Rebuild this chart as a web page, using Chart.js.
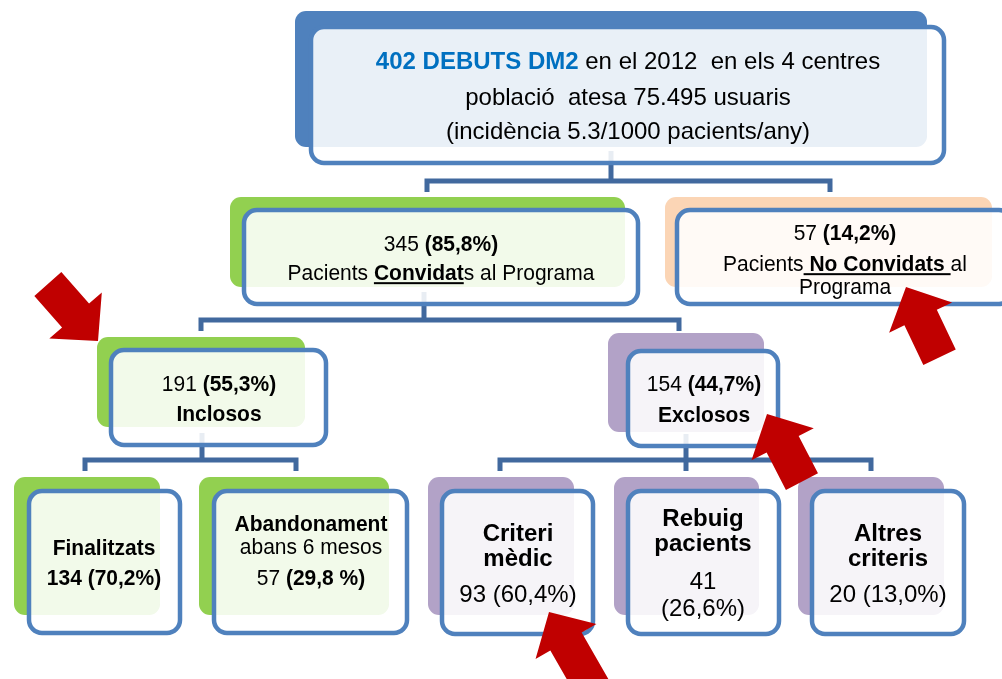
<!DOCTYPE html>
<html>
<head>
<meta charset="utf-8">
<title>Debuts DM2 2012</title>
<script src="https://cdn.jsdelivr.net/npm/chart.js@4.4.1/dist/chart.umd.min.js"></script>
<style>
  html, body { margin: 0; padding: 0; background: #fff; }
  #wrap { width: 1002px; height: 679px; }
</style>
</head>
<body>
<div id="wrap"><canvas id="tree" width="1002" height="679"></canvas></div>
<script>
// ── Data ─────────────────────────────────
const debutYear = 2012;
const centres = 4;
const population = '75.495';
const incidence = '5.3/1000';
const nodeLabels = ['DEBUTS DM2', 'Convidats', 'No Convidats', 'Inclosos', 'Exclosos',
  'Finalitzats', 'Abandonament', 'Criteri mèdic', 'Rebuig pacients', 'Altres criteris'];
const nodeCounts = [402, 345, 57, 191, 154, 134, 57, 93, 41, 20];
const nodePcts = ['', '85,8%', '14,2%', '55,3%', '44,7%', '70,2%', '29,8 %', '60,4%', '26,6%', '13,0%'];
const nodeParents = [null, 0, 0, 1, 1, 3, 3, 4, 4, 4];

// ── Layout (chart units, 1 unit = 1px of the frame) ──
const FONT = '"Liberation Sans", Arial, Helvetica, sans-serif';
const GREEN = '#92d050', PEACH = '#fbd5b5', PURPLE = '#b2a2c7', BLUE = '#4f81bd';
const boxes = [
  { back: [295, 11, 927, 147], front: [309, 25, 946, 165], fill: BLUE, cx: 628, fs: 24, sy: 1, ys: [60, 96, 130] },
  { back: [230, 197, 625, 287], front: [242, 208, 640, 306], fill: GREEN, cx: 441, fs: 21, sy: 1.08, ys: [243, 272] },
  { back: [665, 197, 992, 287], front: [675, 208, 1014, 306], fill: PEACH, cx: 845, fs: 21, sy: 1.08, ys: [232, 263, 286] },
  { back: [97, 337, 305, 427], front: [109, 348, 328, 447], fill: GREEN, cx: 219, fs: 21, sy: 1.08, ys: [383, 413] },
  { back: [608, 333, 764, 432], front: [626, 349, 780, 448], fill: PURPLE, cx: 704, fs: 21, sy: 1.08, ys: [383, 414] },
  { back: [14, 477, 160, 615], front: [27, 489, 182, 635], fill: GREEN, cx: 104, fs: 21, sy: 1.08, ys: [547, 577] },
  { back: [199, 477, 389, 615], front: [212, 489, 409, 635], fill: GREEN, cx: 311, fs: 21, sy: 1.08, ys: [523, 546, 577] },
  { back: [428, 477, 574, 615], front: [440, 489, 595, 636], fill: PURPLE, cx: 518, fs: 24, sy: 1, ys: [532, 557, 593] },
  { back: [614, 477, 759, 615], front: [626, 489, 781, 636], fill: PURPLE, cx: 703, fs: 24, sy: 1, ys: [517, 542, 580, 607] },
  { back: [798, 477, 944, 615], front: [810, 489, 966, 636], fill: PURPLE, cx: 888, fs: 24, sy: 1, ys: [532, 557, 593] }
];
// connector bus per parent node, drop x per child node
const buses = { 0: { stemX: 611, busY: 181 }, 1: { stemX: 424, busY: 320 }, 3: { stemX: 202, busY: 460 }, 4: { stemX: 686, busY: 460 } };
const dropX = [null, 427, 830, 201, 679, 85, 296, 500, 686, 871];
// red pointer arrows: tip and direction
const arrows = [
  { tip: [98, 341], dir: [0.66, 0.75], len: 76 },
  { tip: [906, 287], dir: [-0.43, -0.9], len: 78 },
  { tip: [767, 414], dir: [-0.46, -0.89], len: 76 },
  { tip: [549, 612], dir: [-0.5, -0.87], len: 95 }
];

// text runs for each box, built from the data arrays
function nodeLines(i) {
  const n = nodeCounts[i], p = nodePcts[i], words = nodeLabels[i].split(' ');
  switch (i) {
    case 0: return [
      [{ t: n + ' ' + nodeLabels[0], b: true, c: '#0070c0' }, { t: ' en el ' + debutYear + '  en els ' + centres + ' centres' }],
      [{ t: 'població  atesa ' + population + ' usuaris' }],
      [{ t: '(incidència ' + incidence + ' pacients/any)' }]];
    case 1: return [[{ t: n + ' ' }, { t: '(' + p + ')', b: true }],
      [{ t: 'Pacients ' }, { t: 'Convidat', b: true, u: true }, { t: 's al Programa' }]];
    case 2: return [[{ t: n + ' ' }, { t: '(' + p + ')', b: true }],
      [{ t: 'Pacients' }, { t: ' ' + nodeLabels[2] + ' ', b: true, u: true }, { t: 'al' }],
      [{ t: 'Programa' }]];
    case 3: case 4: return [[{ t: n + ' ' }, { t: '(' + p + ')', b: true }], [{ t: nodeLabels[i], b: true }]];
    case 5: return [[{ t: nodeLabels[5], b: true }], [{ t: n + ' (' + p + ')', b: true }]];
    case 6: return [[{ t: nodeLabels[6], b: true }], [{ t: 'abans 6 mesos' }], [{ t: n + ' ' }, { t: '(' + p + ')', b: true }]];
    case 8: return [[{ t: words[0], b: true }], [{ t: words[1], b: true }], [{ t: String(n) }], [{ t: '(' + p + ')' }]];
    default: return [[{ t: words[0], b: true }], [{ t: words[1], b: true }], [{ t: n + ' (' + p + ')' }]];
  }
}

function roundRect(ctx, x0, y0, x1, y1, r) {
  ctx.beginPath();
  ctx.moveTo(x0 + r, y0);
  ctx.arcTo(x1, y0, x1, y1, r);
  ctx.arcTo(x1, y1, x0, y1, r);
  ctx.arcTo(x0, y1, x0, y0, r);
  ctx.arcTo(x0, y0, x1, y0, r);
  ctx.closePath();
}

const treePlugin = {
  id: 'tree',
  afterDatasetsDraw(chart) {
    const ctx = chart.ctx, xs = chart.scales.x, ys = chart.scales.y;
    const X = v => xs.getPixelForValue(v), Y = v => ys.getPixelForValue(v);
    ctx.save();

    // connectors
    ctx.strokeStyle = '#41699e';
    ctx.lineWidth = 5;
    ctx.lineJoin = 'miter';
    Object.keys(buses).forEach(k => {
      const p = +k, bus = buses[p];
      const kids = nodeParents.map((q, i) => q === p ? i : -1).filter(i => i >= 0);
      const xsDrop = kids.map(i => dropX[i]).sort((a, b) => a - b);
      const end = bus.busY + 11;
      ctx.beginPath();
      ctx.moveTo(X(bus.stemX), Y(boxes[p].front[3] - 14));
      ctx.lineTo(X(bus.stemX), Y(bus.busY));
      ctx.stroke();
      ctx.beginPath();
      ctx.moveTo(X(xsDrop[0]), Y(end));
      ctx.lineTo(X(xsDrop[0]), Y(bus.busY));
      ctx.lineTo(X(xsDrop[xsDrop.length - 1]), Y(bus.busY));
      ctx.lineTo(X(xsDrop[xsDrop.length - 1]), Y(end));
      ctx.stroke();
      xsDrop.slice(1, -1).forEach(dx => {
        ctx.beginPath();
        ctx.moveTo(X(dx), Y(bus.busY));
        ctx.lineTo(X(dx), Y(end));
        ctx.stroke();
      });
    });

    // boxes
    boxes.forEach((bx, i) => {
      const [a0, b0, a1, b1] = bx.back;
      roundRect(ctx, X(a0), Y(b0), X(a1), Y(b1), 11);
      ctx.fillStyle = bx.fill;
      ctx.fill();
      const [f0, g0, f1, g1] = bx.front;
      roundRect(ctx, X(f0) + 2, Y(g0) + 2, X(f1) - 2, Y(g1) - 2, 13);
      ctx.fillStyle = 'rgba(255,255,255,0.88)';
      ctx.fill();
      ctx.strokeStyle = BLUE;
      ctx.lineWidth = 4.5;
      ctx.stroke();

      // text (slightly stretched vertically like the source slide)
      const fs = bx.fs;
      nodeLines(i).forEach((runs, li) => {
        const fontOf = r => (r.b ? 'bold ' : '') + fs + 'px ' + FONT;
        let total = 0;
        runs.forEach(r => { ctx.font = fontOf(r); r.w = ctx.measureText(r.t).width; total += r.w; });
        let x = X(bx.cx) - total / 2;
        const base = Y(bx.ys[li]) + fs * 0.36 * bx.sy;
        ctx.textBaseline = 'alphabetic';
        ctx.textAlign = 'left';
        runs.forEach(r => {
          ctx.font = fontOf(r);
          ctx.fillStyle = r.c || '#000';
          ctx.save();
          ctx.translate(x, base);
          ctx.scale(1, bx.sy);
          ctx.fillText(r.t, 0, 0);
          ctx.restore();
          if (r.u) ctx.fillRect(x, base + 2, r.w, 2);
          x += r.w;
        });
      });
    });

    // red arrows
    ctx.fillStyle = '#c00000';
    arrows.forEach(ar => {
      const [tx, ty] = ar.tip, [dx, dy] = ar.dir;
      const nx = -dy, ny = dx, hl = 34, hw = 35, sw = 18;
      const bx = tx - dx * hl, by = ty - dy * hl;
      const ex = tx - dx * ar.len, ey = ty - dy * ar.len;
      const pts = [[tx, ty], [bx + nx * hw, by + ny * hw], [bx + nx * sw, by + ny * sw],
        [ex + nx * sw, ey + ny * sw], [ex - nx * sw, ey - ny * sw],
        [bx - nx * sw, by - ny * sw], [bx - nx * hw, by - ny * hw]];
      ctx.beginPath();
      pts.forEach((p, k) => k ? ctx.lineTo(X(p[0]), Y(p[1])) : ctx.moveTo(X(p[0]), Y(p[1])));
      ctx.closePath();
      ctx.fill();
    });
    ctx.restore();
  }
};

new Chart(document.getElementById('tree'), {
  type: 'scatter',
  data: { datasets: [{ data: [], pointRadius: 0 }] },
  options: {
    responsive: false,
    animation: false,
    layout: { padding: 0 },
    plugins: { legend: { display: false }, tooltip: { enabled: false } },
    scales: {
      x: { type: 'linear', min: 0, max: 1002, display: false },
      y: { type: 'linear', min: 0, max: 679, reverse: true, display: false }
    }
  },
  plugins: [treePlugin]
});
</script>
</body>
</html>
